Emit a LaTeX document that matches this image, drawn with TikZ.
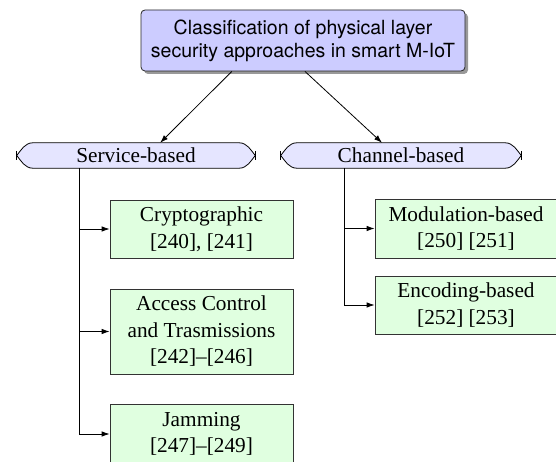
\documentclass[tikz,border=0pt]{standalone}
\usepackage{fontspec}
\setmainfont{Liberation Serif}
\newfontfamily\heros{TeX Gyre Heros}
\usetikzlibrary{calc,shadows,backgrounds,arrows.meta}
\tikzset{
  topbox/.style={draw=black!85, line width=0.8pt, fill=blue!20, rounded corners=4pt,
    minimum width=324pt, minimum height=61pt, inner sep=0pt, align=center,
    font=\heros\fontsize{19.5pt}{23pt}\selectfont,
    drop shadow={shadow xshift=3pt, shadow yshift=-3pt, fill=black, opacity=0.4}},
  ogtext/.style={inner sep=0pt, minimum height=25pt, font=\fontsize{21.3pt}{26pt}\selectfont},
  ogshape/.style={draw=black, line width=0.8pt, fill=blue!10},
  leaf/.style={draw=black!80, line width=0.8pt, fill=green!12, inner sep=0pt, align=center,
    font=\fontsize{21.3pt}{26.5pt}\selectfont},
  conn/.style={line width=0.8pt, -{Latex[length=8pt,width=5.5pt]}},
  tick/.style={line width=1.2pt}
}
\newcommand\drawogive[2]{% name, tip distance
  \begin{pgfonlayer}{background}
  \draw[ogshape] (#1.north west) -- (#1.north east)
    .. controls +(8,0) and +(-4,-5) .. ($(#1.east)+(#2,0)$)
    .. controls +(-4,5) and +(8,0) .. (#1.south east)
    -- (#1.south west)
    .. controls +(-8,0) and +(4,5) .. ($(#1.west)+(-#2,0)$)
    .. controls +(4,-5) and +(-8,0) .. cycle;
  \end{pgfonlayer}
  \draw[tick] ($(#1.east)+(#2,-4.5)$) -- ($(#1.east)+(#2,4.5)$);
  \draw[tick] ($(#1.west)+(-#2,-4.5)$) -- ($(#1.west)+(-#2,4.5)$);
}
\begin{document}
\begin{tikzpicture}[x=1pt,y=-1pt]
\useasboundingbox (0,0) rectangle (556,462);
\node[topbox] (top) at (303,40.5) {Classification of physical layer\\security approaches in smart M-IoT};

\node[ogtext, minimum width=206pt] (sb) at (136,155.5) {Service-based};
\drawogive{sb}{16}
\node[ogtext, minimum width=208pt] (cb) at (401,155.5) {Channel-based};
\drawogive{cb}{16}

\node[leaf, minimum width=183pt, minimum height=58pt] (cr) at (201.5,229) {Cryptographic\\{}[240], [241]};
\node[leaf, minimum width=183pt, minimum height=85pt] (ac) at (201.5,331.5) {Access Control\\and Trasmissions\\{}[242]--[246]};
\node[leaf, minimum width=183pt, minimum height=60pt] (jm) at (201.5,434) {Jamming\\{}[247]--[249]};
\node[leaf, minimum width=182pt, minimum height=59pt] (mb) at (466,228.5) {Modulation-based\\{}[250] [251]};
\node[leaf, minimum width=182pt, minimum height=58pt] (eb) at (466,305) {Encoding-based\\{}[252] [253]};

\draw[conn] ($(top.south west)!0.281!(top.south east)$) -- ($(sb.north west)!0.617!(sb.north east)$);
\draw[conn] ($(top.south west)!0.506!(top.south east)$) -- ($(cb.north west)!0.409!(cb.north east)$);

\coordinate (sbd) at ($(sb.south west)+(47,0)$);
\coordinate (cbd) at ($(cb.south west)+(48,0)$);
\draw[conn] (sbd) |- (cr.west);
\draw[conn] (sbd) |- (ac.west);
\draw[conn] (sbd) |- (jm.west);
\draw[conn] (cbd) |- (mb.west);
\draw[conn] (cbd) |- (eb.west);
\end{tikzpicture}
\end{document}
